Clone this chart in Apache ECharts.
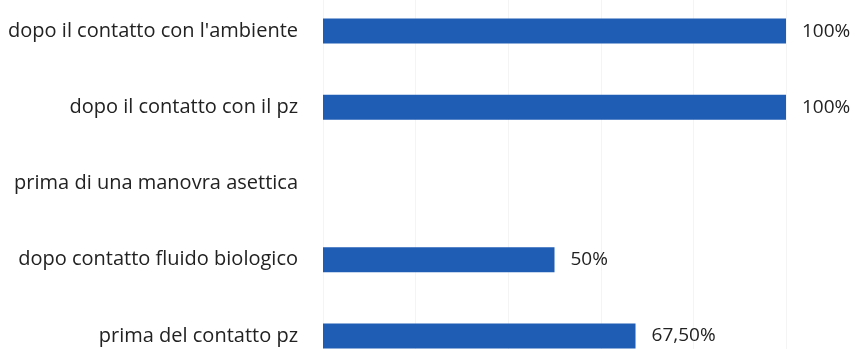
<!DOCTYPE html>
<html>
<head>
<meta charset="utf-8">
<script src="https://cdn.jsdelivr.net/npm/echarts@6/dist/echarts.min.js"></script>
<style>
  html, body { margin: 0; padding: 0; background: #ffffff; overflow: hidden; }
  /* The plot runs slightly past the page edges, so the canvas is taller and nudged up */
  #chart { width: 855px; height: 381px; margin-top: -7px; }
</style>
</head>
<body>
<div id="chart"></div>
<script>
// Hand hygiene moments and compliance percentages
const categories = [
  "dopo il contatto con l'ambiente",
  "dopo il contatto con il pz",
  "prima di una manovra asettica",
  "dopo contatto fluido biologico",
  "prima del contatto pz"
];
const values = [100, 100, null, 50, 67.5];

// Italian-style percent text: whole numbers plain, otherwise two decimals with a comma
function percentText(v) {
  if (Number.isInteger(v)) return v + '%';
  return v.toFixed(2).replace('.', ',') + '%';
}

const chart = echarts.init(document.getElementById('chart'), null, { renderer: 'canvas' });

chart.setOption({
  backgroundColor: '#ffffff',
  animation: false,
  grid: { left: 323, right: 69, top: 0, bottom: 0, containLabel: false },
  xAxis: {
    type: 'value',
    min: 0,
    max: 100,
    interval: 20,
    axisLine: { show: false },
    axisTick: { show: false },
    axisLabel: { show: false },
    splitLine: { show: true, lineStyle: { color: '#f4f4f4', width: 1 } }
  },
  yAxis: {
    type: 'category',
    inverse: true,
    data: categories,
    axisLine: { show: false },
    axisTick: { show: false },
    splitLine: { show: false },
    axisLabel: {
      margin: 25,
      color: '#222222',
      fontFamily: 'Open Sans',
      fontSize: 20
    }
  },
  series: [{
    type: 'bar',
    data: values,
    barWidth: 25,
    itemStyle: { color: '#1f5cb4' },
    label: {
      show: true,
      position: 'right',
      distance: 16,
      color: '#222222',
      fontFamily: 'Open Sans',
      fontSize: 19,
      formatter: p => percentText(p.value)
    }
  }]
});
</script>
</body>
</html>
